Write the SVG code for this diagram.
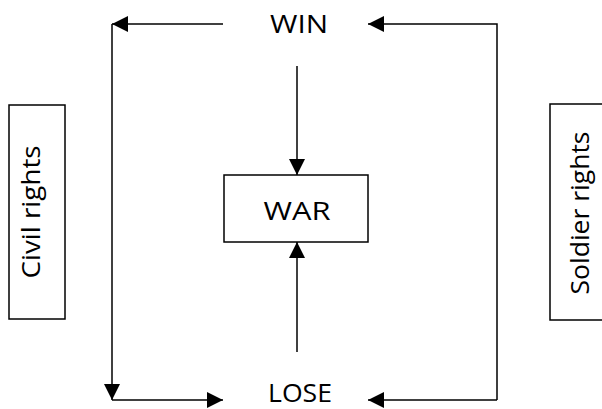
<svg xmlns="http://www.w3.org/2000/svg" width="602" height="409" viewBox="0 0 602 409">
<defs>
<marker id="ah" viewBox="0 0 16 16" refX="16" refY="8" markerWidth="16" markerHeight="16" markerUnits="userSpaceOnUse" orient="auto">
<path d="M0,0 L16,8 L0,16 Z" fill="#000"/>
</marker>
</defs>
<style>
.box{fill:#fff;stroke:#000;stroke-width:1.5}
.lbl{font-family:"Open Sans","Liberation Sans",sans-serif;font-size:25px;fill:#000}
.c{fill:none;stroke:#000;stroke-width:1.5}
</style>
<rect width="602" height="409" fill="#fff"/>
<g id="connectors">
<path class="c" d="M223,24 H112" marker-end="url(#ah)"/>
<path class="c" d="M112,24 V400" marker-end="url(#ah)"/>
<path class="c" d="M112,400 H223" marker-end="url(#ah)"/>
<path class="c" d="M497,400 V24 H368" marker-end="url(#ah)"/>
<path class="c" d="M497,400 H368" marker-end="url(#ah)"/>
<path class="c" d="M297,66 V175" marker-end="url(#ah)"/>
<path class="c" d="M297,352 V242" marker-end="url(#ah)"/>
</g>
<g id="win"><text class="lbl" x="299" y="33" text-anchor="middle" textLength="58" lengthAdjust="spacingAndGlyphs">WIN</text></g>
<g id="lose"><text class="lbl" x="300" y="402" text-anchor="middle" font-size="24" textLength="64" lengthAdjust="spacingAndGlyphs">LOSE</text></g>
<g id="war">
<rect class="box" x="224" y="175" width="144" height="67"/>
<text class="lbl" x="297" y="220" text-anchor="middle" font-size="26" textLength="67" lengthAdjust="spacingAndGlyphs">WAR</text>
</g>
<g id="civil">
<rect class="box" x="9" y="105" width="56" height="214"/>
<text class="lbl" transform="translate(40,212) rotate(-90)" text-anchor="middle" textLength="133" lengthAdjust="spacingAndGlyphs">Civil rights</text>
</g>
<g id="soldier">
<rect class="box" x="550" y="104" width="60" height="216"/>
<text class="lbl" transform="translate(589,213) rotate(-90)" text-anchor="middle" textLength="163" lengthAdjust="spacingAndGlyphs">Soldier rights</text>
</g>
</svg>
